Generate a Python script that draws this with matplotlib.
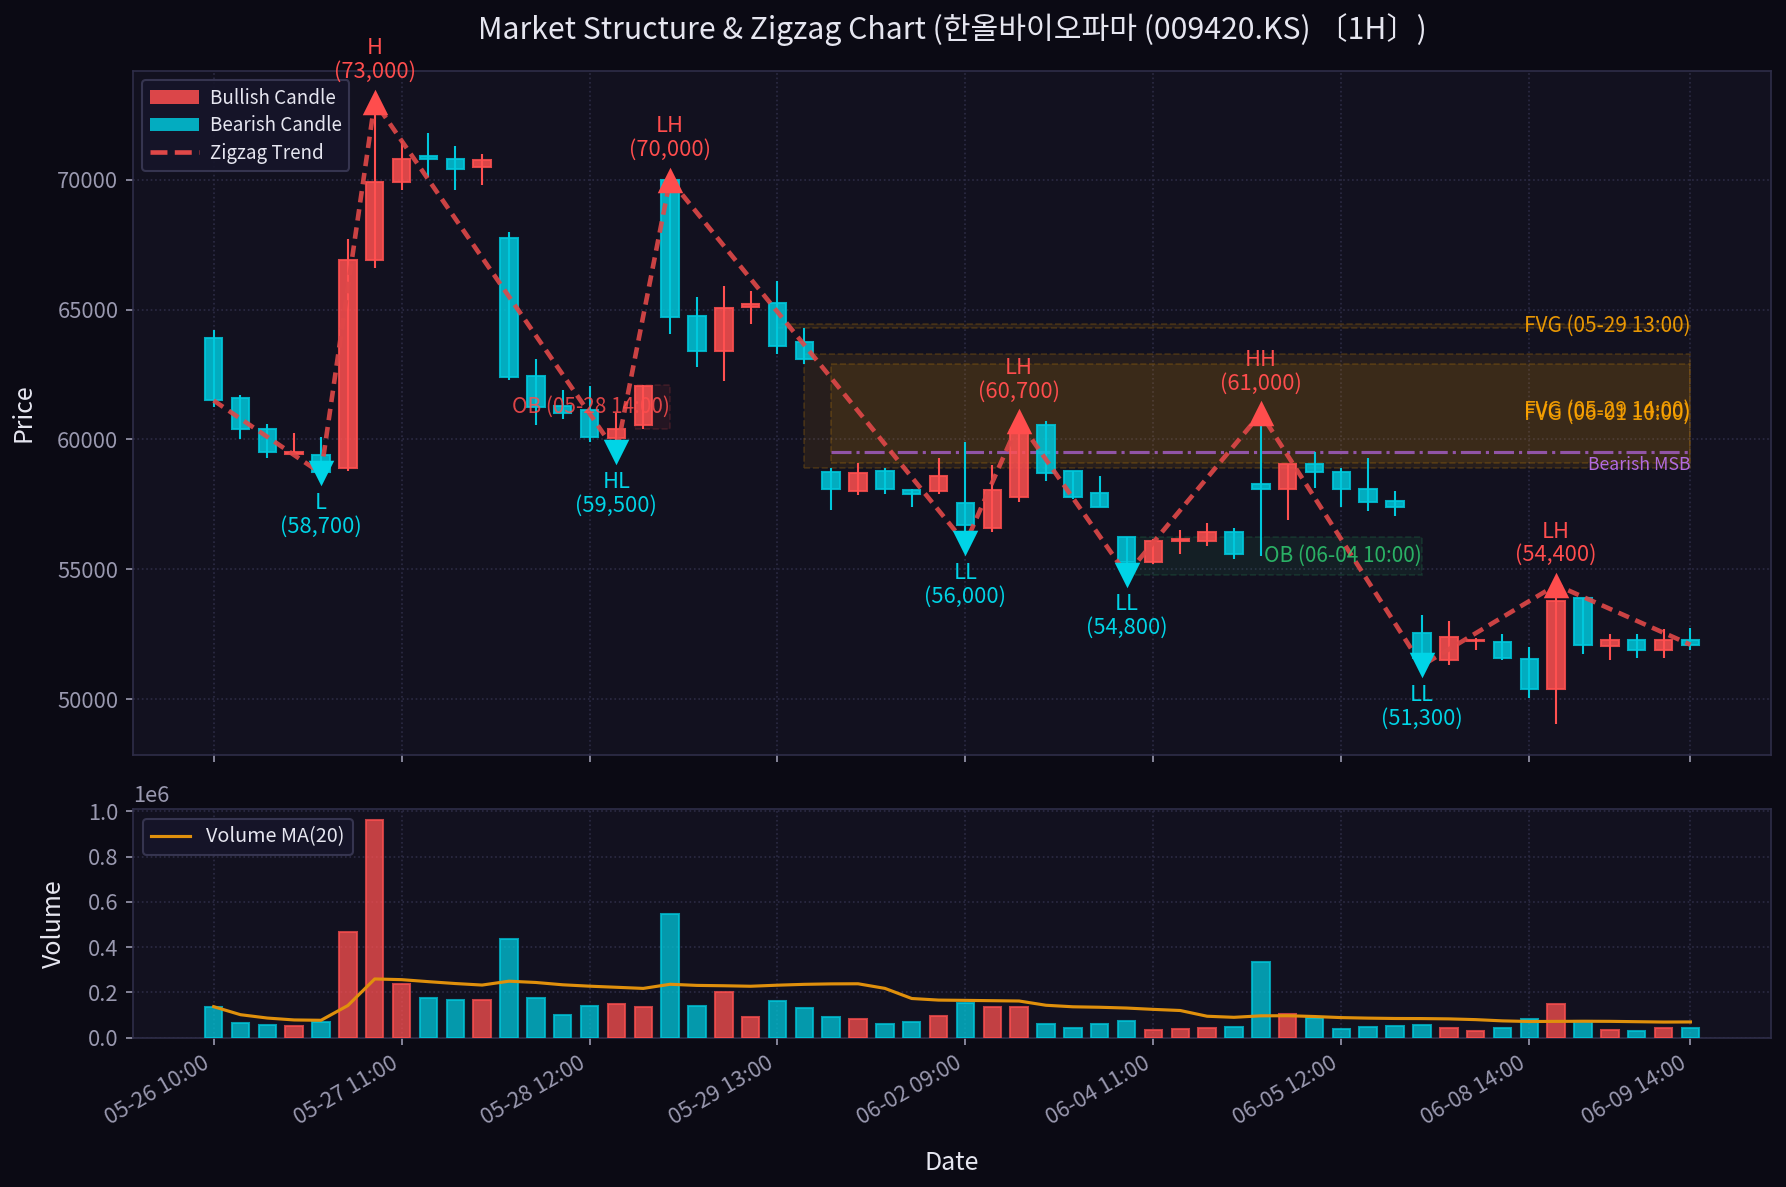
import matplotlib
matplotlib.use("Agg")
import matplotlib.pyplot as plt
import numpy as np
import pandas as pd
from matplotlib.patches import Rectangle, Patch
from matplotlib.lines import Line2D

plt.rcParams['font.family'] = ['Noto Sans CJK KR', 'DejaVu Sans']

# ---------------- data ----------------
day_hours = [("05-26", [10, 11, 12, 13, 14]),
             ("05-27", [9, 10, 11, 12, 13, 14]),
             ("05-28", [9, 10, 11, 12, 13, 14]),
             ("05-29", [9, 10, 11, 12, 13, 14]),
             ("06-01", [10, 11, 12, 13, 14]),
             ("06-02", [9, 10, 11, 12, 13]),
             ("06-04", [9, 10, 11, 12, 13, 14]),
             ("06-05", [9, 10, 11, 12, 13, 14]),
             ("06-08", [10, 11, 12, 13, 14]),
             ("06-09", [9, 10, 11, 12, 13, 14])]
dates = [f"{d} {h:02d}:00" for d, hs in day_hours for h in hs]

opens = [63900, 61600, 60400, 59450, 59400, 58900, 66900, 69900, 70900, 70800,
         70500, 67750, 62450, 61300, 61150, 60050, 60550, 70000, 64750, 63400,
         65100, 65250, 63750, 58750, 58000, 58800, 58050, 58000, 57550, 56600,
         57800, 60550, 58800, 57950, 56250, 55300, 56100, 56100, 56450, 58300,
         58100, 59050, 58750, 58100, 57650, 52550, 51500, 52250, 52200, 51550,
         50400, 53900, 52050, 52300, 51900, 52300]
highs = [64200, 61700, 60600, 60250, 60100, 67700, 73000, 71500, 71800, 71300,
         71000, 68000, 63100, 61900, 62050, 61000, 62100, 70000, 65500, 65900,
         65700, 66100, 64300, 58900, 59100, 58900, 58100, 59300, 59900, 59000,
         60700, 60700, 58800, 58600, 56250, 56150, 56500, 56800, 56600, 61000,
         59050, 59500, 58900, 59300, 58000, 53250, 53000, 52350, 52500, 52000,
         54400, 53900, 52500, 52500, 52700, 52750]
lows = [61250, 60000, 59300, 59450, 58700, 58800, 66600, 69600, 70100, 69600,
        69800, 62300, 60550, 60800, 59900, 59500, 60400, 64050, 62800, 62250,
        64450, 63300, 62900, 57300, 57850, 57900, 57400, 57900, 56000, 56450,
        57600, 58400, 57700, 57400, 54800, 55200, 55600, 55900, 55400, 55500,
        56900, 58150, 57400, 57250, 57050, 51300, 51300, 51900, 51500, 50050,
        49050, 51750, 51500, 51600, 51600, 51900]
closes = [61500, 60400, 59500, 59500, 58750, 66900, 69900, 70800, 70800, 70400,
          70750, 62400, 61250, 61000, 60100, 60400, 62050, 64700, 63400, 65050,
          65200, 63600, 63100, 58100, 58700, 58100, 57900, 58600, 56700, 58050,
          60350, 58700, 57800, 57400, 55300, 56100, 56150, 56450, 55600, 58100,
          59050, 58750, 58100, 57600, 57400, 51600, 52400, 52300, 51600, 50400,
          53800, 52100, 52300, 51900, 52300, 52100]
volumes = [137, 66, 57, 53, 71, 468, 963, 235, 176, 165,
           165, 437, 176, 101, 141, 150, 137, 547, 141, 200,
           93, 160, 132, 93, 81, 62, 68, 94, 151, 137,
           137, 62, 41, 59, 72, 32, 37, 41, 46, 332,
           103, 88, 37, 46, 50, 54, 41, 28, 41, 81,
           147, 75, 32, 28, 41, 41]
volumes = [v * 1000 for v in volumes]

# zigzag swing points (index, price, label)
swing_idx = [0, 4, 6, 15, 17, 28, 30, 34, 39, 45, 50, 55]
swing_price = [61500, 58700, 73000, 59500, 70000, 56000, 60700, 54800, 61000, 51300, 54400, 52100]
swing_label = [None, "L", "H", "HL", "LH", "LL", "LH", "LL", "HH", "LL", "LH", None]
swing_type = [None, "low", "high", "low", "high", "low", "high", "low", "high", "low", "high", None]

# FVG zones
fvg_start = [21, 22, 23]
fvg_end = [55, 55, 55]
fvg_bottom = [64300, 58900, 59100]
fvg_top = [64450, 63300, 62900]
fvg_label = ["FVG (05-29 13:00)", "FVG (05-29 14:00)", "FVG (06-01 10:00)"]

# Order blocks
ob_start = [15.68, 34.3]
ob_end = [17.0, 45.0]
ob_bottom = [60400, 54800]
ob_top = [62100, 56250]
ob_label = ["OB (05-28 14:00)", "OB (06-04 10:00)"]
ob_kind = ["bear", "bull"]

# Market structure break
msb_start = 23
msb_end = 55
msb_price = 59500
msb_label = "Bearish MSB"

vol_ticks = [0.0, 0.2e6, 0.4e6, 0.6e6, 0.8e6, 1.0e6]

title = "Market Structure & Zigzag Chart (한올바이오파마 (009420.KS) 〔1H〕)"

# ---------------- style ----------------
FIG_BG = "#0b0a14"
AX_BG = "#12111f"
BULL = "#ff5050"
BEAR = "#00c8dc"
GRID = "#2c2b44"
SPINE = "#2e2d48"
TICK = "#9a99b0"
TEXT = "#e6e6f0"

n = len(opens)
x = np.arange(n)
o = np.array(opens); h = np.array(highs); l = np.array(lows); c = np.array(closes)
bull = c >= o
colors = np.where(bull, BULL, BEAR)

fig = plt.figure(figsize=(1786 / 150, 1187 / 150), dpi=150, facecolor=FIG_BG)
ax = fig.add_axes([0.0745, 0.3639, 0.9171, 0.5766])
axv = fig.add_axes([0.0745, 0.1258, 0.9171, 0.1929], sharex=ax)

for a in (ax, axv):
    a.set_facecolor(AX_BG)
    for s in a.spines.values():
        s.set_color(SPINE)
    a.tick_params(colors=TICK, labelsize=10.5)
    a.grid(True, linestyle=':', color=GRID, linewidth=0.8)
    a.set_axisbelow(True)

# zones
for xs, xe, yb, yt, lab in zip(fvg_start, fvg_end, fvg_bottom, fvg_top, fvg_label):
    ax.add_patch(Rectangle((xs, yb), xe - xs, yt - yb, facecolor="#ffa500", alpha=0.09,
                           edgecolor="none", zorder=1))
    ax.add_patch(Rectangle((xs, yb), xe - xs, yt - yb, facecolor="none",
                           edgecolor="#ffa500", alpha=0.18, linestyle="--", linewidth=0.8, zorder=1))
    ax.text(xe, (yb + yt) / 2, lab, color="#ffa500", alpha=0.9, fontsize=10,
            ha="right", va="center", zorder=7)

for xs, xe, yb, yt, lab, kind in zip(ob_start, ob_end, ob_bottom, ob_top, ob_label, ob_kind):
    col = "#ff4d4d" if kind == "bear" else "#2ecc71"
    ax.add_patch(Rectangle((xs, yb), xe - xs, yt - yb, facecolor=col, alpha=0.08,
                           edgecolor="none", zorder=1))
    ax.add_patch(Rectangle((xs, yb), xe - xs, yt - yb, facecolor="none",
                           edgecolor=col, alpha=0.15, linestyle="--", linewidth=0.8, zorder=1))
    ax.text(xe, (yb + yt) / 2, lab, color=col, alpha=0.85, fontsize=10,
            ha="right", va="center", zorder=7)

ax.plot([msb_start, msb_end], [msb_price, msb_price], color="#9b59b6", linestyle="-.",
        linewidth=1.5, alpha=0.9, zorder=2)
ax.text(msb_end, msb_price - 150, msb_label, color="#b36be0", fontsize=8.5,
        ha="right", va="top", zorder=7)

# candles
width = 0.65
ax.vlines(x, l, h, colors=colors, linewidth=1.0, zorder=3)
body_bottom = np.minimum(o, c)
body_h = np.abs(c - o)
ax.bar(x, body_h, width, bottom=body_bottom, color=colors, alpha=0.85,
       edgecolor=colors, linewidth=1.0, zorder=4)

# zigzag
ax.plot(swing_idx, swing_price, color="#e04848", linestyle=(0, (2.5, 1.5)),
        linewidth=2.2, alpha=0.9, zorder=5)
for i, p, lab, t in zip(swing_idx, swing_price, swing_label, swing_type):
    if t == "high":
        ax.scatter(i, p, marker="^", s=150, color="#ff4d4d", zorder=6, linewidths=0)
        ax.annotate(f"{lab}\n({p:,})", (i, p), xytext=(0, 9), textcoords="offset points",
                    ha="center", va="bottom", color="#ff4d4d", fontsize=10.5,
                    linespacing=1.1, zorder=7)
    elif t == "low":
        ax.scatter(i, p, marker="v", s=150, color="#00d4e6", zorder=6, linewidths=0)
        ax.annotate(f"{lab}\n({p:,})", (i, p), xytext=(0, -9), textcoords="offset points",
                    ha="center", va="top", color="#00d4e6", fontsize=10.5,
                    linespacing=1.1, zorder=7)

rng = max(highs) - min(lows)
ax.set_ylim(min(lows) - 0.05 * rng, max(highs) + 0.05 * rng)
ax.set_xlim(-3, n + 2)
ax.set_ylabel("Price", color=TEXT, fontsize=12, labelpad=10)
ax.set_title(title, color=TEXT, fontsize=14.5, pad=15)
plt.setp(ax.get_xticklabels(), visible=False)

handles = [Patch(facecolor=BULL, alpha=0.85, label="Bullish Candle"),
           Patch(facecolor=BEAR, alpha=0.85, label="Bearish Candle"),
           Line2D([0], [0], color="#e04848", linestyle="--", linewidth=2.2, label="Zigzag Trend")]
ax.legend(handles=handles, loc="upper left", fontsize=9, facecolor="#16152a",
          edgecolor="#3a3955", labelcolor=TEXT, framealpha=0.9,
          labelspacing=0.35, handlelength=2.6, handletextpad=0.6)

# volume
vol = np.array(volumes, dtype=float)
axv.bar(x, vol, width, color=colors, alpha=0.75, edgecolor=colors, linewidth=1.0, zorder=3)
ma = pd.Series(vol).rolling(20, min_periods=1).mean()
axv.plot(x, ma, color="#e0900c", linewidth=1.5, label="Volume MA(20)", zorder=4)
axv.set_ylim(0, vol.max() * 1.05)
axv.set_yticks(vol_ticks)
axv.set_ylabel("Volume", color=TEXT, fontsize=12, labelpad=10)
axv.set_xlabel("Date", color=TEXT, fontsize=12, labelpad=10)
axv.yaxis.get_offset_text().set_color(TICK)
axv.yaxis.get_offset_text().set_fontsize(10.5)
axv.legend(loc="upper left", fontsize=9.5, facecolor="#16152a", edgecolor="#3a3955",
           labelcolor=TEXT, framealpha=0.9)

tick_pos = list(range(0, n, 7)) + [n - 1]
axv.set_xticks(tick_pos)
axv.set_xticklabels([dates[i] for i in tick_pos], rotation=30, ha="right")

fig.savefig("out.png", dpi=150, facecolor=FIG_BG)
